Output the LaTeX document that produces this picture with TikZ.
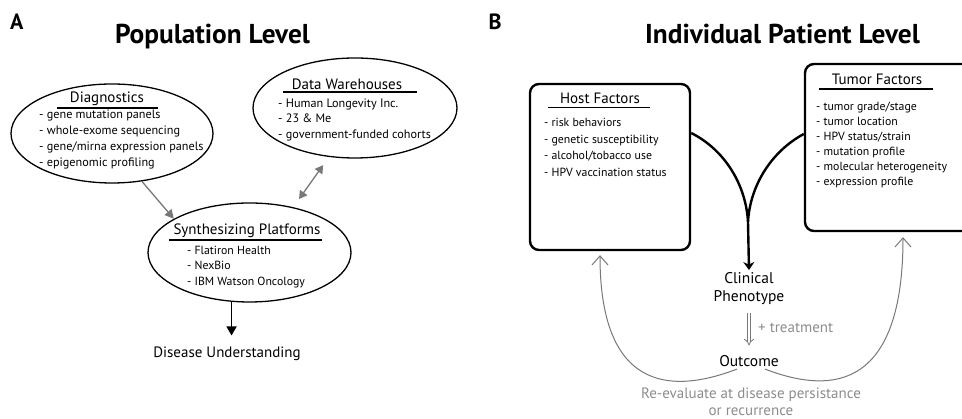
\documentclass[tikz,border=0pt]{standalone}
\usepackage{fontspec}
\setmainfont{PT Sans}
\usetikzlibrary{shapes.geometric,arrows.meta}

\definecolor{linegray}{RGB}{120,120,120}
\definecolor{textgray}{RGB}{140,140,140}

\tikzset{
	panel/.style={anchor=base west,inner sep=0pt,font=\fontsize{22}{22}\selectfont\bfseries},
	title/.style={anchor=base,inner sep=0pt,font=\fontsize{27.3}{27.3}\selectfont\bfseries},
	oval/.style={draw,ellipse,line width=1.3pt,inner sep=0pt},
	factorbox/.style={draw,rectangle,rounded corners=9pt,line width=2.4pt,inner sep=0pt},
	heading/.style={anchor=base,inner sep=0pt,font=\fontsize{15}{15}\selectfont},
	item/.style={anchor=base west,inner sep=0pt,font=\fontsize{12.2}{12.2}\selectfont},
	smallitem/.style={item,font=\fontsize{11.8}{11.8}\selectfont},
	label/.style={align=center,inner sep=2pt,font=\fontsize{15.5}{18.4}\selectfont},
	note/.style={inner sep=0pt,text=textgray,font=\fontsize{15}{17}\selectfont},
	uline/.style={line width=1.2pt}
}

\begin{document}
\begin{tikzpicture}[x=1pt,y=1pt]
	\clip (0,0) rectangle (962,419);
	% panel A
	\node[panel](la) at (10,389.7) {A};
	\node[title](ta) at (212.5,375.5) {Population Level};

	\node[oval,minimum width=202,minimum height=99](diag) at (112,285.5) {};
	\node[heading](hdiag) at (107,316) {Diagnostics};
	\draw[uline] (57,311) -- (158,311);
	\node[item](d1) at (39,300) {- gene mutation panels};
	\node[item](d2) at (39,284) {- whole-exome sequencing};
	\node[item](d3) at (39,268.3) {- gene/mirna expression panels};
	\node[item](d4) at (39,252.3) {- epigenomic profiling};

	\node[oval,minimum width=204,minimum height=100](ware) at (355,311) {};
	\node[heading](hware) at (347,329.5) {Data Warehouses};
	\draw[uline] (283,327) -- (417,327);
	\node[item](w1) at (278,311.7) {- Human Longevity Inc.};
	\node[item](w2) at (278,296.3) {- 23 \& Me};
	\node[item](w3) at (278,280.3) {- government-funded cohorts};

	\node[oval,minimum width=203,minimum height=99](synth) at (249.5,166.5) {};
	\node[heading](hsynth) at (247,184.7) {Synthesizing Platforms};
	\draw[uline] (169,179) -- (322,179);
	\node[smallitem](s1) at (187,164) {- Flatiron Health};
	\node[smallitem](s2) at (187,149) {- NexBio};
	\node[smallitem](s3) at (187,133) {- IBM Watson Oncology};

	\node[heading](disease) at (227,61.7) {Disease Understanding};

	\draw[linegray,line width=1.3pt,-{Triangle[length=9pt,width=9pt]}] (diag.-58) -- (synth.156);
	\draw[linegray,line width=1.3pt,{Triangle[length=8pt,width=9pt]}-{Triangle[length=8pt,width=9pt]},shorten <=10pt,shorten >=10pt] (synth.46) -- (ware.242);
	\draw[line width=1.5pt,-{Triangle[length=9pt,width=10pt]},shorten >=11pt] (synth.250) -- (synth.250 |- disease.north);

	% panel B
	\node[panel](lb) at (488.3,389.7) {B};
	\node[title](tb) at (782.5,375) {Individual Patient Level};

	\node[factorbox,minimum width=160,minimum height=166](host) at (610,252) {};
	\node[heading](hhost) at (600,315.7) {Host Factors};
	\draw[uline] (548,311.7) -- (650,311.7);
	\node[smallitem](h1) at (544,292.3) {- risk behaviors};
	\node[smallitem](h2) at (544,275) {- genetic susceptibility};
	\node[smallitem](h3) at (544,259) {- alcohol/tobacco use};
	\node[smallitem](h4) at (544,242.3) {- HPV vaccination status};

	\node[factorbox,minimum width=180,minimum height=167](tumor) at (895,271.5) {};
	\node[heading](htumor) at (877,334) {Tumor Factors};
	\draw[uline] (819,330) -- (933,330);
	\node[smallitem](t1) at (816,308.3) {- tumor grade/stage};
	\node[smallitem](t2) at (816,293) {- tumor location};
	\node[smallitem](t3) at (816,278.3) {- HPV status/strain};
	\node[smallitem](t4) at (816,263.3) {- mutation profile};
	\node[smallitem](t5) at (816,248) {- molecular heterogeneity};
	\node[smallitem](t6) at (816,233) {- expression profile};

	\node[label,anchor=base](clinical) at (749,117.3) {Clinical\\Phenotype};
	\node[label,anchor=base](outcome) at (749,52.3) {Outcome};
	\node[note,anchor=base west](treat) at (758,86.3) {+ treatment};
	\node[note,align=center,anchor=base](reeval) at (751,3) {Re-evaluate at disease persistance\\or recurrence};

	\coordinate (merge) at (748,197);
	\draw[line width=2.4pt] ([yshift=34pt]host.east) .. controls (725,269) and (746,234) .. (merge);
	\draw[line width=2.4pt] ([yshift=13.5pt]tumor.west) .. controls (772,268) and (750,234) .. (merge);
	\draw[line width=2.4pt,-{Stealth[length=8pt,width=11pt,inset=2.5pt]}] (merge) -- (clinical.north);
	\draw[linegray,double,double distance=2.6pt,line width=0.8pt,-{Implies}] ([yshift=-6pt]clinical.south) -- ([yshift=8pt]outcome.north);

	\draw[linegray,line width=1pt,-{Straight Barb[length=9pt,width=16pt]}] ([xshift=-12pt]outcome.south) .. controls (680,28) and (600,20) .. ([xshift=-10pt,yshift=-4pt]host.south);
	\draw[linegray,line width=1pt,-{Straight Barb[length=9pt,width=16pt]}] ([xshift=16pt]outcome.south) .. controls (822,28) and (903,20) .. ([xshift=8pt,yshift=-5pt]tumor.south);
\end{tikzpicture}
\end{document}
